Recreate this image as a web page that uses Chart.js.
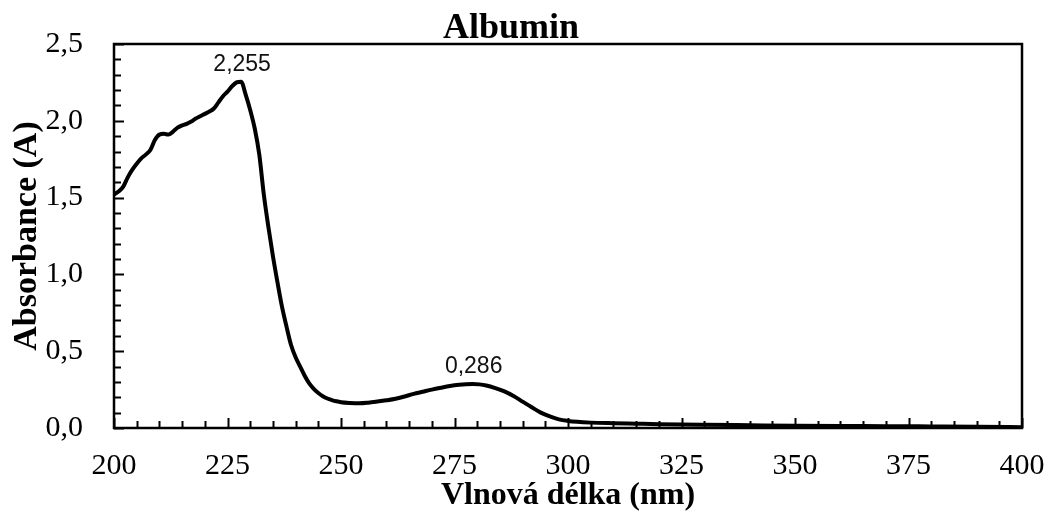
<!DOCTYPE html>
<html><head><meta charset="utf-8">
<script src="https://cdn.jsdelivr.net/npm/chart.js@4"></script>
<style>html,body{margin:0;padding:0;background:#fff}#wrap{width:1050px;height:515px}</style>
</head><body><div id="wrap"><canvas id="c" width="1050" height="515"></canvas></div>
<script>
const wavelengths = [200,201,202,203,204,205,206,207,208,209,210,211,212,213,214,215,216,217,218,219,220,221,222,223,224,225,226,227,228,229,230,231,232,233,234,235,236,237,238,239,240,241,242,243,244,245,246,247,248,249,250,252,254,256,258,260,262,264,266,268,270,272,274,276,277.5,279,280.5,282,284,286,288,290,292,294,296,298,300,302,305,310,315,320,330,340,350,360,370,380,390,400];
const absorbance = [1.52,1.54,1.57,1.63,1.68,1.72,1.755,1.78,1.81,1.875,1.91,1.915,1.91,1.93,1.955,1.97,1.98,1.995,2.015,2.03,2.045,2.06,2.08,2.12,2.16,2.19,2.225,2.25,2.255,2.17,2.07,1.95,1.78,1.52,1.31,1.12,0.95,0.79,0.66,0.54,0.46,0.40,0.34,0.29,0.255,0.228,0.207,0.192,0.182,0.174,0.168,0.163,0.161,0.165,0.172,0.18,0.19,0.205,0.222,0.236,0.25,0.262,0.273,0.281,0.285,0.286,0.284,0.277,0.26,0.238,0.208,0.172,0.135,0.10,0.075,0.056,0.046,0.04,0.035,0.031,0.028,0.025,0.021,0.018,0.015,0.013,0.012,0.010,0.008,0.005];
const peakWavelengths = [228, 279];
const xMin = 200, xMax = 400, xStep = 25, xMinorStep = 5;
const yMin = 0, yMax = 2.5, yStep = 0.5, yMinorStep = 0.1;

const fmtComma = (v, d) => v.toFixed(d).replace('.', ',');

const frameAndTicks = {
  id: 'frameAndTicks',
  afterDraw(chart) {
    const {ctx, chartArea: a, scales: {x, y}} = chart;
    ctx.save();
    ctx.strokeStyle = '#000';
    ctx.lineWidth = 2;
    for (let i = 0; i <= Math.round((yMax - yMin) / yMinorStep); i++) {
      const v = yMin + i * yMinorStep;
      const py = Math.round(y.getPixelForValue(v)) + 0.5;
      const major = i % Math.round(yStep / yMinorStep) === 0;
      ctx.beginPath();
      ctx.moveTo(a.left, py);
      ctx.lineTo(a.left + (major ? 10 : 7), py);
      ctx.stroke();
    }
    for (let i = 0; i <= Math.round((xMax - xMin) / xMinorStep); i++) {
      const v = xMin + i * xMinorStep;
      const px = Math.round(x.getPixelForValue(v)) + 0.5;
      const major = i % Math.round(xStep / xMinorStep) === 0;
      ctx.beginPath();
      ctx.moveTo(px, a.bottom);
      ctx.lineTo(px, a.bottom - (major ? 10 : 7));
      ctx.stroke();
    }
    ctx.lineWidth = 2.5;
    ctx.strokeRect(a.left, a.top, a.right - a.left, a.bottom - a.top);
    ctx.restore();
  }
};

const peakLabels = {
  id: 'peakLabels',
  afterDatasetsDraw(chart) {
    const {ctx, scales: {x, y}} = chart;
    ctx.save();
    ctx.font = '23px "Liberation Sans", Arial, sans-serif';
    ctx.fillStyle = '#111';
    ctx.textAlign = 'center';
    ctx.textBaseline = 'middle';
    peakWavelengths.forEach(w => {
      const i = wavelengths.indexOf(w);
      const v = absorbance[i];
      ctx.fillText(fmtComma(v, 3), x.getPixelForValue(w) + 1, y.getPixelForValue(v) - 17);
    });
    ctx.restore();
  }
};

new Chart(document.getElementById('c'), {
  type: 'line',
  data: {
    datasets: [{
      data: wavelengths.map((w, i) => ({x: w, y: absorbance[i]})),
      borderColor: '#000',
      borderWidth: 4,
      pointRadius: 0,
      cubicInterpolationMode: 'monotone',
      fill: false
    }]
  },
  options: {
    responsive: false,
    animation: false,
    layout: {padding: {left: 0, right: 28, top: 0, bottom: 0}},
    plugins: {
      legend: {display: false},
      tooltip: {enabled: false},
      title: {
        display: true,
        text: 'Albumin',
        color: '#000',
        font: {family: '"Liberation Serif", "Times New Roman", serif', size: 36, weight: 'bold', lineHeight: 0.8333},
        padding: {top: 14, bottom: 0}
      }
    },
    scales: {
      x: {
        type: 'linear',
        min: xMin, max: xMax,
        afterFit(s) { s.height = 87; s.paddingLeft = 0; s.paddingRight = 0; },
        grid: {display: false, drawTicks: false},
        border: {display: false},
        ticks: {
          stepSize: xStep,
          color: '#000',
          padding: 20,
          maxRotation: 0,
          font: {family: '"Liberation Serif", "Times New Roman", serif', size: 30}
        },
        title: {
          display: true,
          text: 'Vlnová délka (nm)',
          color: '#000',
          font: {family: '"Liberation Serif", "Times New Roman", serif', size: 32, weight: 'bold', lineHeight: 1},
          padding: {top: 0, bottom: 3}
        }
      },
      y: {
        min: yMin, max: yMax,
        afterFit(s) { s.width = 114; s.paddingTop = 0; s.paddingBottom = 0; },
        grid: {display: false, drawTicks: false},
        border: {display: false},
        ticks: {
          stepSize: yStep,
          color: '#000',
          padding: 31,
          font: {family: '"Liberation Serif", "Times New Roman", serif', size: 30},
          callback: v => fmtComma(v, 1)
        },
        title: {
          display: true,
          text: 'Absorbance (A)',
          color: '#000',
          font: {family: '"Liberation Serif", "Times New Roman", serif', size: 34, weight: 'bold', lineHeight: 1},
          padding: {top: 10, bottom: 0}
        }
      }
    }
  },
  plugins: [frameAndTicks, peakLabels]
});
</script>
</body></html>
